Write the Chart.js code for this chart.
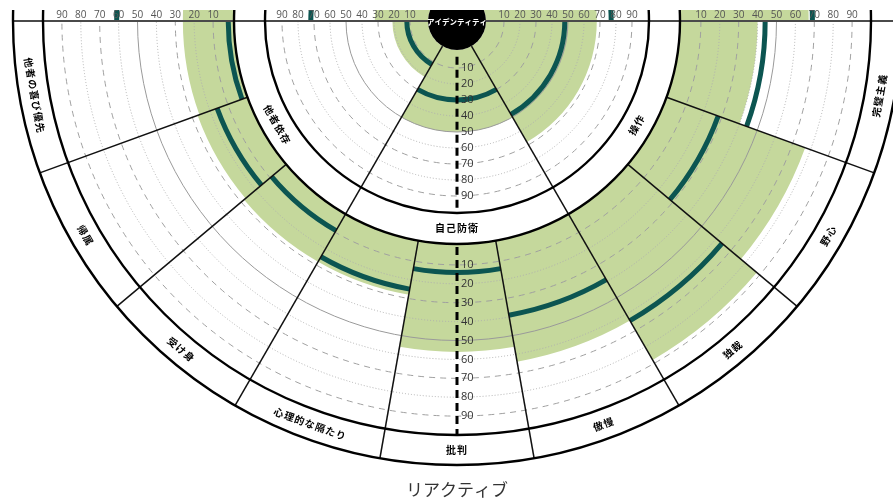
<!DOCTYPE html>
<html>
<head>
<meta charset="utf-8">
<title>リアクティブ</title>
<script src="https://cdn.jsdelivr.net/npm/chart.js"></script>
<style>
  html, body { margin: 0; padding: 0; background: #fff; }
  #wrap { width: 893px; height: 502px; position: relative; }
</style>
</head>
<body>
<div id="wrap"><canvas id="grafik"></canvas></div>
<script>
// outer ring, left to right along the lower half
const outerLabels = ['他者の喜び優先', '帰属', '受け身', '心理的な隔たり', '批判', '傲慢', '独裁', '野心', '完璧主義'];
const outerShade = [26, 27, 28, 28, 56, 64, 88, 77, 40];
const outerLine = [2, 16, 9, 25, 14, 39, 64, 28, 44];

// inner ring, summary dimensions
const innerLabels = ['他者依存', '自己防衛', '操作'];
const innerShade = [21, 50, 68];
const innerLine = [12, 30, 48];

// neighbours in the upper half (only the strip above the axis is visible)
// order: outer left, inner left, inner right, outer right
const upperShade = [26, 32, 68, 67];
const upperLine = [61, 72, 77, 69];

const tickValues = [10, 20, 30, 40, 50, 60, 70, 80, 90];
const hubLabel = 'アイデンティティ';
const titleText = 'リアクティブ';

// radii in scale units
const ringInner = { from: 31, to: 191 };
const ringOuter = { from: 225, to: 414 };
const bandInner = [192, 223];
const bandOuter = [414, 444];
const hubRadius = 29;

const SHADE = '#c5d89c';
const LINE = '#0c5551';

const wheel = {
    id: 'wheel',
    beforeDatasetsDraw(chart) {
        const { ctx, chartArea, scales: { x, y } } = chart;
        const cx = x.getPixelForValue(0);
        const cy = y.getPixelForValue(0);
        const px = r => x.getPixelForValue(r) - cx;
        const rad = d => d * Math.PI / 180;
        const valR = (ring, v) => px(ring.from + (ring.to - ring.from) * v / 100);

        function sector(r0, r1, a0, a1, color) {
            ctx.beginPath();
            ctx.arc(cx, cy, r1, rad(a0), rad(a1));
            ctx.arc(cx, cy, r0, rad(a1), rad(a0), true);
            ctx.closePath();
            ctx.fillStyle = color;
            ctx.fill();
        }
        function arc(r, a0, a1, color, width, dash) {
            ctx.beginPath();
            ctx.setLineDash(dash || []);
            ctx.arc(cx, cy, r, rad(a0), rad(a1));
            ctx.strokeStyle = color;
            ctx.lineWidth = width;
            ctx.stroke();
            ctx.setLineDash([]);
        }
        function spoke(a, r0, r1, color, width) {
            const c = Math.cos(rad(a)), s = Math.sin(rad(a));
            ctx.beginPath();
            ctx.moveTo(cx + r0 * c, cy + r0 * s);
            ctx.lineTo(cx + r1 * c, cy + r1 * s);
            ctx.strokeStyle = color;
            ctx.lineWidth = width;
            ctx.stroke();
        }

        ctx.save();
        ctx.beginPath();
        ctx.rect(chartArea.left, chartArea.top, chartArea.width, chartArea.height);
        ctx.clip();

        // shaded ranges
        outerShade.forEach((v, i) => {
            const a1 = 180 - 20 * i, a0 = a1 - 20;
            sector(px(bandInner[1]), valR(ringOuter, v), a0, a1, SHADE);
        });
        innerShade.forEach((v, i) => {
            const a1 = 180 - 60 * i, a0 = a1 - 60;
            sector(px(hubRadius), valR(ringInner, v), a0, a1, SHADE);
        });
        const upperSpans = [[180, 200, ringOuter, bandInner[1]], [180, 240, ringInner, hubRadius],
                            [300, 360, ringInner, hubRadius], [340, 360, ringOuter, bandInner[1]]];
        upperSpans.forEach(([a0, a1, ring, base], i) => {
            sector(px(base), valR(ring, upperShade[i]), a0, a1, SHADE);
        });

        // grid rings
        [ringInner, ringOuter].forEach(ring => {
            tickValues.forEach(v => {
                const r = valR(ring, v);
                if (v === 50) arc(r, 0, 180, '#9a9a9a', 1);
                else if (v % 20 === 10) arc(r, 0, 180, '#a0a0a0', 1, [6, 5]);
                else arc(r, 0, 180, '#b0b0b0', 1, [1, 2]);
            });
        });

        // score lines
        outerLine.forEach((v, i) => {
            const a1 = 180 - 20 * i, a0 = a1 - 20;
            arc(valR(ringOuter, v), a0, a1, LINE, 5);
        });
        innerLine.forEach((v, i) => {
            const a1 = 180 - 60 * i, a0 = a1 - 60;
            arc(valR(ringInner, v), a0, a1, LINE, 5);
        });
        upperSpans.forEach(([a0, a1, ring], i) => {
            arc(valR(ring, upperLine[i]), a0, a1, LINE, 5);
        });

        // horizontal axis
        ctx.beginPath();
        ctx.moveTo(cx - px(bandOuter[1]), cy);
        ctx.lineTo(cx + px(bandOuter[1]), cy);
        ctx.strokeStyle = '#4a4a4a';
        ctx.lineWidth = 2;
        ctx.stroke();

        // segment dividers
        [160, 140, 100, 80, 40, 20].forEach(a => spoke(a, px(bandInner[1]), px(bandOuter[1]), '#111', 1.5));
        [120, 60].forEach(a => spoke(a, px(hubRadius), px(bandOuter[1]), '#111', 1.5));

        // band circles
        [bandInner[0], bandInner[1], bandOuter[0], bandOuter[1]].forEach(r => arc(px(r), 0, 360, '#000', 2.4));

        // vertical dashed scale
        ctx.setLineDash([8, 5]);
        spoke(90, valR(ringInner, 3), px(bandInner[0]), '#000', 3);
        spoke(90, px(bandInner[1]) + 3, px(bandOuter[0]), '#000', 3);
        ctx.setLineDash([]);

        ctx.fillStyle = '#333';
        ctx.font = '11px "Open Sans", sans-serif';
        ctx.textAlign = 'left';
        ctx.textBaseline = 'middle';
        [ringInner, ringOuter].forEach(ring => {
            tickValues.forEach(v => ctx.fillText(String(v), cx + 4, cy + valR(ring, v)));
        });

        // tick labels along the horizontal axis
        ctx.fillStyle = '#555';
        ctx.font = '10px "Open Sans", sans-serif';
        ctx.textAlign = 'center';
        ctx.textBaseline = 'alphabetic';
        [ringInner, ringOuter].forEach(ring => {
            tickValues.forEach(v => {
                const r = valR(ring, v);
                ctx.fillText(String(v), cx - r, cy - 3);
                ctx.fillText(String(v), cx + r, cy - 3);
            });
        });

        // segment names
        function bandText(text, a, r) {
            ctx.save();
            ctx.translate(cx + r * Math.cos(rad(a)), cy + r * Math.sin(rad(a)));
            ctx.rotate(rad(a - 90));
            ctx.fillText(text, 0, 0);
            ctx.restore();
        }
        ctx.fillStyle = '#000';
        ctx.font = 'bold 10px "Noto Sans CJK JP", sans-serif';
        ctx.letterSpacing = '1px';
        ctx.textAlign = 'center';
        ctx.textBaseline = 'middle';
        const midOuter = px((bandOuter[0] + bandOuter[1]) / 2);
        const midInner = px((bandInner[0] + bandInner[1]) / 2);
        outerLabels.forEach((t, i) => bandText(t, 170 - 20 * i, midOuter));
        innerLabels.forEach((t, i) => bandText(t, 150 - 60 * i, midInner));
        ctx.letterSpacing = '0px';

        // hub
        ctx.beginPath();
        ctx.arc(cx, cy, px(hubRadius), 0, Math.PI * 2);
        ctx.fillStyle = '#000';
        ctx.fill();
        ctx.fillStyle = '#fff';
        ctx.font = 'bold 7.5px "Noto Sans CJK JP", sans-serif';
        ctx.fillText(hubLabel, cx, cy + 1);

        // title
        ctx.fillStyle = '#333';
        ctx.font = '17px "Noto Sans CJK JP", sans-serif';
        ctx.fillText(titleText, cx, y.getPixelForValue(-469));

        ctx.restore();
    }
};

const ctx = document.getElementById('grafik').getContext('2d');
const grafik = new Chart(ctx, {
    type: 'scatter',
    data: { datasets: [] },
    options: {
        responsive: true,
        maintainAspectRatio: false,
        animation: false,
        layout: { padding: { top: 10, left: 0, right: 0, bottom: 0 } },
        plugins: { legend: { display: false }, tooltip: { enabled: false } },
        scales: {
            x: { type: 'linear', min: -457, max: 436, display: false },
            y: { type: 'linear', min: -481, max: 11, display: false }
        }
    },
    plugins: [wheel]
});
</script>
</body>
</html>
